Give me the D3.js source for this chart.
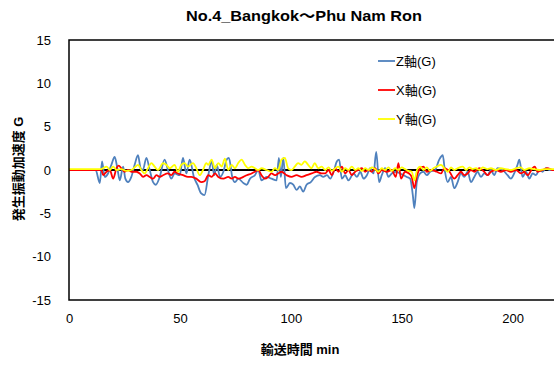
<!DOCTYPE html>
<html>
<head>
<meta charset="utf-8">
<script src="https://cdn.jsdelivr.net/npm/d3@7"></script>
<style>
  html, body { margin: 0; padding: 0; background: #fff; }
  svg { display: block; }
  text { font-family: "Liberation Sans", Arial, "Noto Sans CJK JP", sans-serif; fill: #000; }
</style>
</head>
<body>
<svg id="chart" width="554" height="365"></svg>
<script>
// Vertical (Z) acceleration, G, against transport time in minutes
const zTime = [0,12,13.9,14.9,16.1,17.6,19.1,20.6,21.8,22.9,24.4,25.4,26.6,28.1,29.6,31.1,32.3,33.3,34.9,36.4,37.9,39.1,40.9,43.1,44.6,46.1,47.6,49.9,51.4,52.9,54.4,56.3,57.9,59.6,61.1,62.8,64.3,65.5,66.6,68.1,69.6,71.1,72.1,73.6,74.8,76.3,78.6,80.1,81.6,83.8,85.3,86.8,89.1,91.3,93.6,94.6,95.5,96.6,97.8,99.6,101.1,102.6,104.1,105.6,107.1,109,110.9,113.1,114.6,116.3,117.8,119.3,120.8,121.8,123,124.5,126,128.3,129.8,131.3,132.8,134.3,135.8,137.3,138.5,139.8,141,142.5,144,145.5,147,149.3,150.8,152.3,153.8,155,155.7,156.8,158.3,159.8,161.3,162.8,165,166.9,168.5,169.5,170.7,172.2,173.7,175.2,176.7,178.2,179.7,181.2,182.7,184.2,185.7,187.2,188.7,190.2,191.7,193.2,195.5,197.7,199.2,200.7,202.2,203,204.5,206,207.5,209,210.5,212,213.5,215,216.5,220];
const zAccel = [0,0,-1.5,1.0,-0.8,-0.4,0.6,1.5,0.2,-1.2,0.4,-1.0,-1.4,-0.8,0.6,1.7,0.2,0.0,1.4,0.0,-1.4,-1.7,-0.8,1.2,0.0,-1.0,-0.4,-0.6,1.4,-0.4,1.2,-0.8,-1.7,-2.7,-2.9,-0.6,1.0,-0.6,0.6,-0.8,-0.2,1.2,1.4,-0.8,-1.4,-1.0,-1.5,-1.7,-1.0,-0.6,0.0,-1.2,-0.8,-1.0,-1.2,1.4,-0.8,1.4,-2.1,-1.5,-1.7,-2.3,-1.9,-2.5,-1.7,-1.4,-0.8,-0.6,-0.8,-0.6,-1.0,-0.2,1.0,1.2,-1.0,-0.6,-1.2,-0.4,-0.8,-0.2,-1.0,-0.6,0.2,-0.4,2.1,-1.4,-0.6,0.2,-0.8,-0.4,-0.2,-0.4,-0.6,-0.8,-1.0,-2.9,-4.4,-1.4,-0.4,-0.2,-0.6,-0.2,0.0,1.2,1.7,-0.2,-1.4,-0.8,-2.1,-1.4,-0.4,-0.8,-0.2,-1.4,-0.8,-0.2,-0.8,-0.4,-0.6,0.0,-0.6,0.2,0.0,-0.6,-1.0,-0.4,0.6,1.2,-0.8,-0.2,-1.0,-0.4,-0.6,0.0,-0.2,0.2,0.0,0.0];

// Horizontal (X) acceleration, G
const xTime = [0,14.6,15.4,16.9,18.4,19.9,21.4,22.4,23.6,25.1,26.6,28.1,30.4,31.9,33.4,34.9,36.4,37.9,39.4,40.9,42.4,44.6,46.1,47.6,49.1,51.4,53.6,55.1,57.4,59.6,61.1,62.8,64.3,65.8,67.3,69.6,71.8,73.3,74.8,76.3,78.6,80.1,82.3,83.8,85.3,86.8,88.3,89.8,91.3,92.8,94.3,95.8,98.1,100.3,102.6,104.8,107.1,109.4,111.6,113.9,115.5,117,118.5,120,121.5,123,124.5,126,127.5,129,130.5,132,133.5,135,136.5,138,139.5,141,143.3,145.5,147.3,148.5,149.7,151.5,153.3,154.5,155.7,156.9,158.3,159.8,161.3,163.5,165.8,167.7,169.2,171.5,173.7,175.2,176.7,178.2,179.7,181.2,182.7,185,187.2,188.7,190.2,192.5,194.7,197,199.2,201.5,203.7,205.2,206.7,209,210,211.2,213.5,215.7,218,220];
const xAccel = [0,0,-0.6,-0.2,0,-1.0,0.2,0.5,0.2,-0.2,0,-0.2,-0.2,-0.4,-0.8,-0.6,-0.8,-1.0,-0.6,-0.8,-0.6,-0.4,-0.6,-0.2,-0.4,-0.6,-0.8,-0.8,-1.0,-1.4,-1.3,-0.6,-0.8,-0.4,-0.8,-1.0,-0.8,-1.0,-0.8,-1.0,-0.8,-0.6,-0.4,-0.2,0,-0.6,-1.0,-0.8,-0.4,-0.6,-0.4,-0.2,-0.6,-0.8,-0.6,-0.8,-0.6,-0.4,-0.2,-0.4,-0.4,0,-0.6,0.2,-0.2,0.4,-0.4,0,-0.6,-0.2,0,0.2,-0.2,0,-0.2,0.2,-0.4,0,-0.2,0,-0.8,0.8,-1.0,-0.2,-0.4,-0.8,-2.1,-0.6,0.2,0.4,-0.2,0,-0.2,-0.4,0.2,-0.2,-1.0,-0.6,-0.2,-0.6,-0.4,0,-0.2,0.2,-0.2,-0.6,-0.2,0,-0.2,0,-0.2,0,-0.4,-0.2,-0.6,0.2,0.4,-0.2,0,0.2,0,0];

// Lateral (Y) acceleration, G
const yTime = [0,14.6,15.4,16.9,18.4,19.9,21.4,23.6,25.9,28.1,29.6,31.1,32.6,34.1,35.6,37.1,38.6,40.1,42.4,43.9,45.4,47.6,49.1,50.6,52.1,53.6,55.9,57.4,58.9,60.4,61.9,62.8,64.3,65.8,67.3,68.8,70.3,71.8,73.3,74.8,76.3,77.8,79.3,80.8,82.3,83.8,85.3,86.8,89.1,91.3,92.8,94.3,95.8,97.3,98.8,100.3,101.8,103.3,104.8,106.3,107.8,109.3,110.8,112.3,113.9,115.5,117,118.5,120,121.5,123,124.5,126,127.5,129,130.5,132,133.5,135,136.5,138,139.5,141,142.5,144,145.5,147,148.5,150,151.5,153,154.5,155.7,156.9,158.3,159.8,161.3,162.8,164.3,165.8,167.7,169.2,170.7,172.2,173.7,175.2,177.5,179,180.5,182,183.5,185,186.5,188.7,190.2,192.5,194.7,197,199.2,201.5,203.7,205.2,207.5,209.7,212,214.3,216.5,220];
const yAccel = [0.1,0.1,0.2,0.4,0,0.4,0,0.1,-0.1,0,0.3,0.6,0,-0.4,0.2,0.8,0.4,0,0.8,0.6,0.2,0.6,-0.2,0.6,0.8,0.4,0.8,0.2,-0.6,0,0.8,0.6,1.2,0.2,0.8,0.4,1.3,0,0.6,0.2,0.8,1.2,0.6,0.2,0.4,0.2,0,0.2,0,-0.2,0.2,0,1.2,1.4,0.2,0,0.4,0.8,0.6,1.0,0.6,0.2,0.8,0.2,0.4,0,0.3,-0.1,0.2,0.4,-0.2,0.2,0,0.4,0,0.2,-0.1,0.2,0,0.3,0.1,-0.2,0.2,0,0.3,-0.1,0.2,0,0.3,0.1,-0.1,-0.2,-1.2,0,0.4,0,0.3,-0.1,0.2,0.4,0.6,0.2,-0.2,0.3,0,0.2,0.4,0,0.3,0.1,0.2,0,0.3,0.1,0.2,0,0.2,0.1,0,0.2,0.3,0,0.2,0.1,0,0.1,0.1,0.1];

const seriesNames = ["Z軸(G)", "X軸(G)", "Y軸(G)"];
const seriesColors = ["#4F81BD", "#FF0000", "#FFFF00"];
const xTicks = [0, 50, 100, 150, 200];
const yTicks = [15, 10, 5, 0, -5, -10, -15];
const chartTitle = "No.4_Bangkok〜Phu Nam Ron";
const xTitle = "輸送時間 min";
const yTitle = "発生振動加速度 G";

const svg = d3.select("#chart");
const W = 554, H = 365;
const plot = { left: 69, top: 40, bottom: 300 };

const x = d3.scaleLinear().domain([0, 220]).range([plot.left, plot.left + 488]);
const y = d3.scaleLinear().domain([-15, 15]).range([plot.bottom, plot.top]);

svg.append("defs").append("clipPath").attr("id", "plotClip")
  .append("rect")
  .attr("x", plot.left).attr("y", plot.top)
  .attr("width", W - plot.left).attr("height", plot.bottom - plot.top);

// Title
svg.append("text")
  .attr("x", 304).attr("y", 21)
  .attr("text-anchor", "middle")
  .attr("textLength", 236).attr("lengthAdjust", "spacingAndGlyphs")
  .style("font-size", "15px").style("font-weight", "bold")
  .text(chartTitle);

// Zero reference line
svg.append("line")
  .attr("x1", x(0)).attr("x2", W)
  .attr("y1", y(0)).attr("y2", y(0))
  .attr("stroke", "#000").attr("stroke-width", 2);

// Series
const series = [
  { t: zTime, v: zAccel },
  { t: xTime, v: xAccel },
  { t: yTime, v: yAccel }
];
const line = d3.line()
  .x(d => x(d[0]))
  .y(d => y(d[1]))
  .curve(d3.curveMonotoneX);

const g = svg.append("g").attr("clip-path", "url(#plotClip)");
series.forEach((s, i) => {
  const pts = s.t.map((t, k) => [t, s.v[k]]);
  g.append("path")
    .datum(pts)
    .attr("d", line)
    .attr("fill", "none")
    .attr("stroke", seriesColors[i])
    .attr("stroke-width", 1.8)
    .attr("stroke-linejoin", "round");
});

// Plot frame (left, top, bottom)
svg.append("path")
  .attr("d", `M${W},${plot.top}H${plot.left}V${plot.bottom}H${W}`)
  .attr("fill", "none").attr("stroke", "#000").attr("stroke-width", 1.5);

// Axes (labels only, plain hyphen minus)
const fmt = d => String(d);
const yAxis = d3.axisLeft(y).tickValues(yTicks).tickFormat(fmt).tickSize(0).tickPadding(0);
const yg = svg.append("g").attr("transform", `translate(51,0)`).call(yAxis);
yg.select(".domain").remove();
yg.selectAll("text").style("font-size", "13px").style("font-family", "Liberation Sans, Arial, sans-serif").attr("fill", "#000");

const xAxis = d3.axisBottom(x).tickValues(xTicks).tickFormat(fmt).tickSize(0).tickPadding(0);
const xg = svg.append("g").attr("transform", `translate(0,314)`).call(xAxis);
xg.select(".domain").remove();
xg.selectAll("text").style("font-size", "13px").style("font-family", "Liberation Sans, Arial, sans-serif").attr("fill", "#000");

// Axis titles
svg.append("text")
  .attr("x", 300).attr("y", 354)
  .attr("text-anchor", "middle")
  .style("font-size", "13px").style("font-weight", "bold")
  .text(xTitle);

svg.append("text")
  .attr("transform", "translate(23,169) rotate(-90)")
  .attr("text-anchor", "middle")
  .style("font-size", "13px").style("font-weight", "bold")
  .text(yTitle);

// Legend
const legend = svg.append("g");
seriesNames.forEach((name, i) => {
  const ly = 61 + i * 29;
  legend.append("line")
    .attr("x1", 378).attr("x2", 395)
    .attr("y1", ly).attr("y2", ly)
    .attr("stroke", seriesColors[i]).attr("stroke-width", 1.8);
  legend.append("text")
    .attr("x", 396).attr("y", ly + 5)
    .style("font-size", "13px")
    .text(name);
});
</script>
</body>
</html>
